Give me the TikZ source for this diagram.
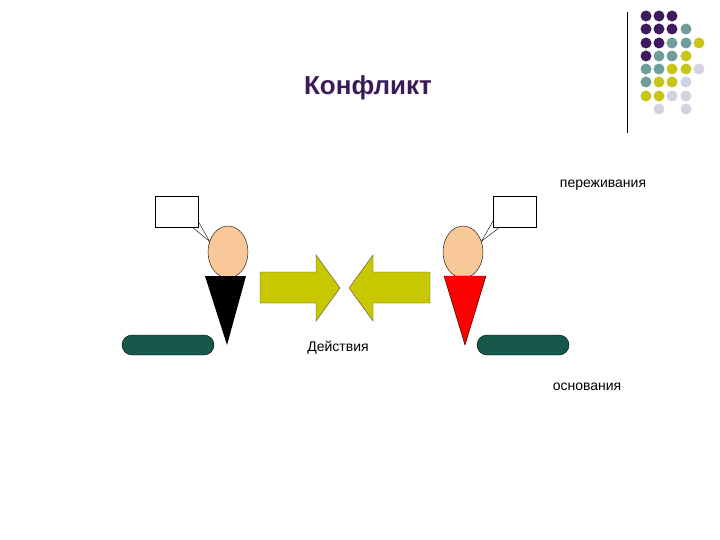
\documentclass[tikz,border=0pt]{standalone}
\usepackage{fontspec}
\setmainfont{Liberation Sans}
\begin{document}
\begin{tikzpicture}[x=1pt,y=-1pt,
  dotP/.style={fill=c1},dotT/.style={fill=c2},dotY/.style={fill=c3},dotL/.style={fill=c4},
  lbl/.style={font=\fontsize{14}{16}\selectfont},
  head/.style={ellipse,draw,thin,fill=skin,minimum width=40,minimum height=52,inner sep=0},
  bubble/.style={draw,thin,fill=white,minimum width=43,minimum height=31,inner sep=0},
  pad/.style={rounded rectangle,draw=black,fill=pad,minimum width=92,minimum height=20,inner sep=0},
  arr/.style={draw=black!70,fill=olive,line join=miter}]
\usetikzlibrary{shapes.geometric,shapes.misc}
\definecolor{c1}{HTML}{3F1A5E}\definecolor{c2}{HTML}{6E9E9A}
\definecolor{c3}{HTML}{C8C41A}\definecolor{c4}{HTML}{D2D2E2}
\definecolor{skin}{HTML}{F8C898}\definecolor{pad}{HTML}{16584A}
\definecolor{olive}{HTML}{C8C800}\definecolor{ttl}{HTML}{3B1A5A}
\useasboundingbox (0,0) rectangle (720,540);
% decorative dots
\draw[thin] (627,12) -- (627,133);
\foreach \r/\row in {1/PPP,2/PPPT,3/PPTTY,4/PTTY,5/TTYYL,6/TYYL,7/YYLL}{
  \foreach \c in {1,...,5}{}}
\foreach \x/\y/\s in {
 646/16/P,659/16/P,672/16/P,
 646/29/P,659/29/P,672/29/P,686/29/T,
 646/43/P,659/43/P,672/43/T,686/43/T,699/43/Y,
 646/56/P,659/56/T,672/56/T,686/56/Y,
 646/69/T,659/69/T,672/69/Y,686/69/Y,699/69/L,
 646/82/T,659/82/Y,672/82/Y,686/82/L,
 646/96/Y,659/96/Y,672/96/L,686/96/L,
 659/109/L,686/109/L}
 {\fill[dot\s] (\x,\y) circle (5.5);}
\node[font=\fontsize{26}{30}\selectfont\bfseries,text=ttl] (title) at (368,88) {Конфликт};
% left person
\node[bubble] (b1) at (176.5,211.5) {};
\node[head] (h1) at (228,252) {};
\draw[thin] (192,227) -- (h1.150) -- (198,221);
\fill (205,276) -- (246,276) -- (227,345) -- cycle;
\node[pad] (p1) at (168,345) {};
% right person
\node[bubble] (b2) at (514.5,211.5) {};
\node[head] (h2) at (463,252) {};
\draw[thin] (500,227) -- (h2.30) -- (493,221);
\draw[fill=red,thin] (444,276) -- (486,276) -- (465,345) -- cycle;
\node[pad] (p2) at (523,345) {};
% arrows
\draw[arr] (260,272) -- (316,272) -- (316,255) -- (340,288) -- (316,321) -- (316,303) -- (260,303) -- cycle;
\draw[arr] (430,272) -- (373,272) -- (373,255) -- (349,288) -- (373,321) -- (373,303) -- (430,303) -- cycle;
\node[lbl] (t1) at (603,185) {переживания};
\node[lbl] (t2) at (338,348) {Действия};
\node[lbl] (t3) at (587,387) {основания};
\end{tikzpicture}
\end{document}
